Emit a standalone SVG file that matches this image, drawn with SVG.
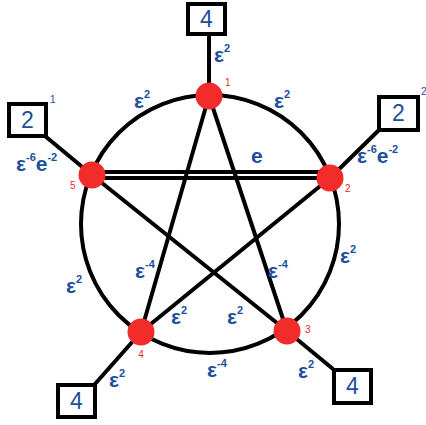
<svg xmlns="http://www.w3.org/2000/svg" width="426" height="425" viewBox="0 0 426 425">
<style>
.ln{stroke:#000;stroke-width:4;fill:none}
.bx{fill:#fff;stroke:#000;stroke-width:4}
.nd{fill:#f22c2a}
.lb{font-family:"Liberation Sans",Arial,sans-serif;font-weight:bold;fill:#1c4f9c;font-size:21px}
.sp{font-size:11px}
.num{font-family:"Liberation Sans",Arial,sans-serif;fill:#1c4f9c;font-size:23px;text-anchor:middle}
.id{font-family:"Liberation Sans",Arial,sans-serif;fill:#e8282a;font-size:10px}
.idb{font-family:"Liberation Sans",Arial,sans-serif;fill:#1c4f9c;font-size:10px}
</style>
<rect width="426" height="425" fill="#fff"/>
<g id="connectors">
<circle class="ln" cx="210" cy="224" r="129" stroke-width="3.5"/>
<line class="ln" x1="209" y1="96" x2="141" y2="332"/>
<line class="ln" x1="209" y1="96" x2="287" y2="331"/>
<line class="ln" x1="92" y1="175" x2="287" y2="331"/>
<line class="ln" x1="330" y1="178" x2="141" y2="332"/>
<line class="ln" x1="92" y1="172" x2="330" y2="172" stroke-width="3"/>
<line class="ln" x1="92" y1="178" x2="330" y2="178" stroke-width="3"/>
<line class="ln" x1="209" y1="34" x2="209" y2="96" stroke-width="3"/>
<line class="ln" x1="45" y1="136" x2="92" y2="175" stroke-width="3"/>
<line class="ln" x1="379" y1="130" x2="330" y2="178" stroke-width="3"/>
<line class="ln" x1="95" y1="384" x2="141" y2="332" stroke-width="3"/>
<line class="ln" x1="333" y1="369" x2="287" y2="331" stroke-width="3"/>
</g>
<g id="node1"><circle class="nd" cx="209" cy="96" r="13.5"/><text class="id" x="225" y="86">1</text></g>
<g id="node2"><circle class="nd" cx="330" cy="178" r="13.5"/><text class="id" x="345" y="192">2</text></g>
<g id="node3"><circle class="nd" cx="287" cy="331" r="13.5"/><text class="id" x="305" y="333">3</text></g>
<g id="node4"><circle class="nd" cx="141" cy="332" r="13.5"/><text class="id" x="141" y="358" text-anchor="middle" font-size="8">4</text></g>
<g id="node5"><circle class="nd" cx="92" cy="175" r="13.5"/><text class="id" x="70" y="189">5</text></g>
<g id="box-top"><rect class="bx" x="188" y="4" width="37" height="30"/><text class="num" x="206.5" y="27">4</text></g>
<g id="box-left"><rect class="bx" x="9" y="104" width="37" height="32"/><text class="num" x="27.5" y="128">2</text><text class="idb" x="50" y="103">1</text></g>
<g id="box-right"><rect class="bx" x="379" y="97" width="39" height="33"/><text class="num" x="398.5" y="121">2</text><text class="idb" x="421" y="95">2</text></g>
<g id="box-bl"><rect class="bx" x="58" y="385" width="37" height="32"/><text class="num" x="76.5" y="409">4</text></g>
<g id="box-br"><rect class="bx" x="334" y="370" width="37" height="33"/><text class="num" x="352.5" y="394">4</text></g>
<g id="labels">
<text class="lb" x="214" y="62">ε<tspan class="sp" dy="-10">2</tspan></text>
<text class="lb" x="134" y="108">ε<tspan class="sp" dy="-10">2</tspan></text>
<text class="lb" x="274" y="108">ε<tspan class="sp" dy="-10">2</tspan></text>
<text class="lb" x="251" y="163">e</text>
<text class="lb" x="16" y="171">ε<tspan class="sp" dy="-10">-6</tspan><tspan dy="10">e</tspan><tspan class="sp" dy="-10">-2</tspan></text>
<text class="lb" x="357" y="163">ε<tspan class="sp" dy="-10">-6</tspan><tspan dy="10">e</tspan><tspan class="sp" dy="-10">-2</tspan></text>
<text class="lb" x="340" y="263">ε<tspan class="sp" dy="-10">2</tspan></text>
<text class="lb" x="66" y="293">ε<tspan class="sp" dy="-10">2</tspan></text>
<text class="lb" x="135" y="278">ε<tspan class="sp" dy="-10">-4</tspan></text>
<text class="lb" x="268" y="278">ε<tspan class="sp" dy="-10">-4</tspan></text>
<text class="lb" x="171" y="324">ε<tspan class="sp" dy="-10">2</tspan></text>
<text class="lb" x="227" y="324">ε<tspan class="sp" dy="-10">2</tspan></text>
<text class="lb" x="207" y="377">ε<tspan class="sp" dy="-10">-4</tspan></text>
<text class="lb" x="109" y="387">ε<tspan class="sp" dy="-10">2</tspan></text>
<text class="lb" x="298" y="378">ε<tspan class="sp" dy="-10">2</tspan></text>
</g>
</svg>
